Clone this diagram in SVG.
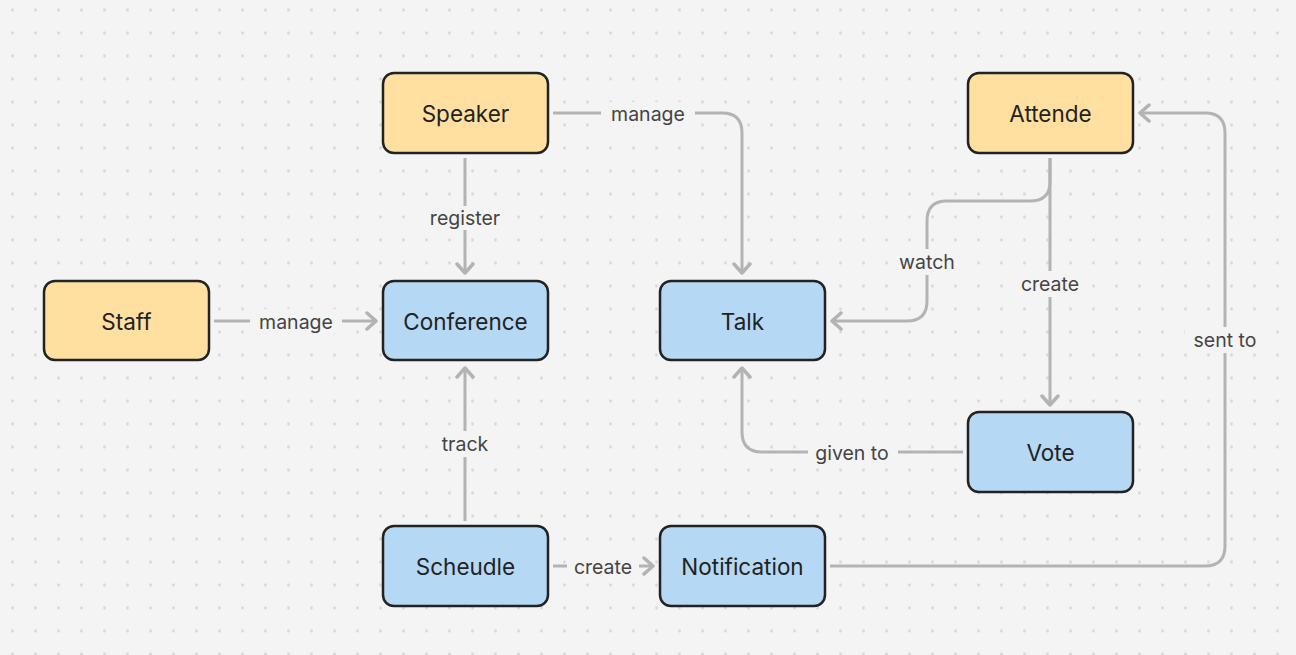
<svg xmlns="http://www.w3.org/2000/svg" width="1296" height="655" viewBox="0 0 1296 655">
<defs>
<pattern id="dots" x="1" y="-1.5" width="23" height="23" patternUnits="userSpaceOnUse">
<circle cx="11.5" cy="11.5" r="1.4" fill="#d6d6d6"/>
</pattern>
<marker id="arr" viewBox="-12 -10 14 20" refX="0" refY="0" markerWidth="14" markerHeight="20" markerUnits="userSpaceOnUse" orient="auto">
<path d="M-9,-8 L0,0 L-9,8" fill="none" stroke="#b3b3b3" stroke-width="3.5" stroke-linecap="round" stroke-linejoin="round"/>
</marker>
<style>
.node rect{stroke:#222;stroke-width:2.5}
.actor rect{fill:#ffe0a1}
.entity rect{fill:#b5d8f5}
.node text{font-family:Inter,"Liberation Sans",sans-serif;font-size:22.5px;font-weight:400;fill:#222;text-anchor:middle;dominant-baseline:central}
.edge{fill:none;stroke:#b3b3b3;stroke-width:3}
.lbl rect{fill:#f4f4f4}
.lbl text{font-family:Inter,"Liberation Sans",sans-serif;font-size:19.5px;font-weight:400;fill:#444;text-anchor:middle;dominant-baseline:central}
</style>
</defs>
<rect width="1296" height="655" fill="#f4f4f4"/>
<rect width="1296" height="655" fill="url(#dots)"/>

<g id="connectors">
<path class="edge" d="M553,113 H722 Q742,113 742,133 V273" marker-end="url(#arr)"/>
<path class="edge" d="M465,158 V273" marker-end="url(#arr)"/>
<path class="edge" d="M214,321 H376" marker-end="url(#arr)"/>
<path class="edge" d="M1050,158 V182 Q1050,201 1030,201 H947 Q927,201 927,221 V301 Q927,321 907,321 H832" marker-end="url(#arr)"/>
<path class="edge" d="M1050,158 V405" marker-end="url(#arr)"/>
<path class="edge" d="M963,452 H762 Q742,452 742,432 V368" marker-end="url(#arr)"/>
<path class="edge" d="M465,521 V368" marker-end="url(#arr)"/>
<path class="edge" d="M553,566 H653" marker-end="url(#arr)"/>
<path class="edge" d="M830,566 H1205 Q1225,566 1225,546 V133 Q1225,113 1205,113 H1140" marker-end="url(#arr)"/>
<g class="lbl"><rect x="601" y="102" width="94" height="24"/><text x="648" y="114">manage</text></g>
<g class="lbl"><rect x="421" y="206" width="88" height="24"/><text x="465" y="218">register</text></g>
<g class="lbl"><rect x="250" y="309" width="92" height="24"/><text x="296" y="322">manage</text></g>
<g class="lbl"><rect x="892" y="249" width="70" height="26"/><text x="927" y="262">watch</text></g>
<g class="lbl"><rect x="1012" y="271" width="76" height="26"/><text x="1050" y="284">create</text></g>
<g class="lbl"><rect x="808" y="440" width="90" height="26"/><text x="852" y="453">given to</text></g>
<g class="lbl"><rect x="432" y="431" width="66" height="26"/><text x="465" y="444">track</text></g>
<g class="lbl"><rect x="567" y="554" width="72" height="26"/><text x="603" y="567">create</text></g>
<g class="lbl"><rect x="1185" y="327" width="80" height="26"/><text x="1225" y="340">sent to</text></g>
</g>

<g id="speaker" class="node actor"><rect x="383" y="73" width="165" height="80" rx="11"/><text x="465.5" y="113">Speaker</text></g>
<g id="attende" class="node actor"><rect x="968" y="73" width="165" height="80" rx="11"/><text x="1050.5" y="113">Attende</text></g>
<g id="staff" class="node actor"><rect x="44" y="281" width="165" height="79" rx="11"/><text x="126.5" y="321">Staff</text></g>
<g id="conference" class="node entity"><rect x="383" y="281" width="165" height="79" rx="11"/><text x="465.5" y="321">Conference</text></g>
<g id="talk" class="node entity"><rect x="660" y="281" width="165" height="79" rx="11"/><text x="742.5" y="321">Talk</text></g>
<g id="vote" class="node entity"><rect x="968" y="412" width="165" height="80" rx="11"/><text x="1050.5" y="452">Vote</text></g>
<g id="scheudle" class="node entity"><rect x="383" y="526" width="165" height="80" rx="11"/><text x="465.5" y="566">Scheudle</text></g>
<g id="notification" class="node entity"><rect x="660" y="526" width="165" height="80" rx="11"/><text x="742.5" y="566">Notification</text></g>
</svg>
